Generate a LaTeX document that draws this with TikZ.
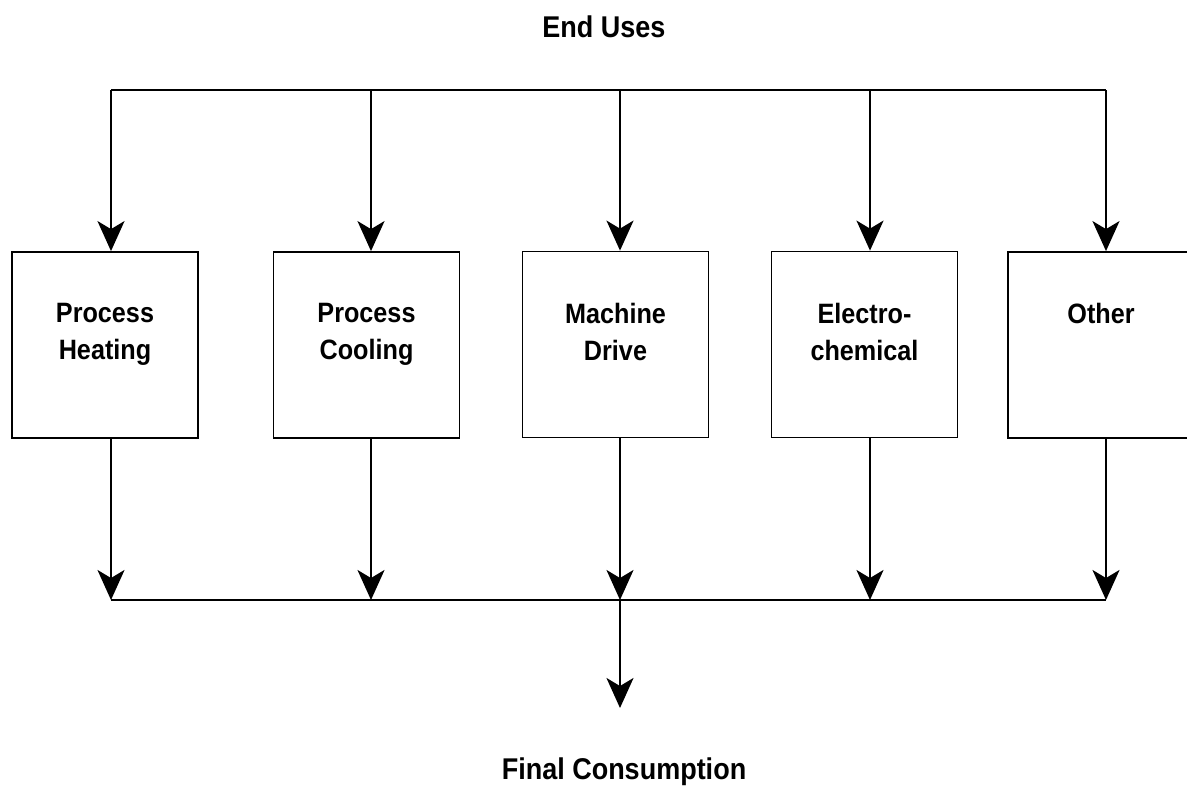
\documentclass[tikz,border=0pt]{standalone}
\usepackage{fontspec}
\setmainfont{Liberation Sans}
\newfontfamily\narrowsans{Liberation Sans}[FakeStretch=0.9]
\usetikzlibrary{arrows.meta,positioning,calc}

\begin{document}
\begin{tikzpicture}[
    x=1pt, y=-1pt,
    box/.style={rectangle, draw=black, line width=1.8pt, minimum width=186pt, minimum height=186pt, inner sep=0pt},
    lbl/.style={align=center, inner sep=0pt, font=\narrowsans\fontsize{28}{37}\selectfont\bfseries},
    ttl/.style={inner sep=0pt, anchor=base, font=\narrowsans\fontsize{30}{36}\selectfont\bfseries},
    arr/.style={-{Stealth[length=30pt, width=27pt, inset=8pt]}, line width=2pt},
    ln/.style={line width=2pt}
]
    \useasboundingbox (0,0) rectangle (1187,787);

    % titles
    \node [ttl] (eu) at (604,37) {End Uses};
    \node [ttl] (fc) at (624,779) {Final Consumption};

    % end use boxes
    \node [box] (b1) at (105,345) {};
    \node [box] (b2) at (366.5,345) {};
    \node [box] (b3) at (615.5,344.5) {};
    \node [box] (b4) at (864.5,344.5) {};
    \node [box] (b5) at (1101,345) {};

    \node [lbl, below=52pt of b1.north] (l1) {Process\\Heating};
    \node [lbl, below=52pt of b2.north] (l2) {Process\\Cooling};
    \node [lbl, below=52pt of b3.north] (l3) {Machine\\Drive};
    \node [lbl, below=52pt of b4.north] (l4) {Electro-\\chemical};
    \node [lbl, below=52pt of b5.north] (l5) {Other};

    % rails
    \coordinate (t1) at (111,90);
    \coordinate (t5) at (1106,90);
    \coordinate (r1) at (111,600);
    \coordinate (r5) at (1106,600);
    \coordinate (m) at (620,600);
    \coordinate (end) at (620,708);

    \draw [ln] (t1) -- (t5);
    \draw [ln] (r1) -- (r5);

    \foreach \i/\x in {1/111, 2/371, 3/620, 4/870, 5/1106} {
        \draw [arr] (\x,90) -- (\x,0 |- b\i.north);
        \draw [arr] (\x,0 |- b\i.south) -- (\x,600);
    }

    \draw [arr] (m) -- (end);
\end{tikzpicture}
\end{document}
